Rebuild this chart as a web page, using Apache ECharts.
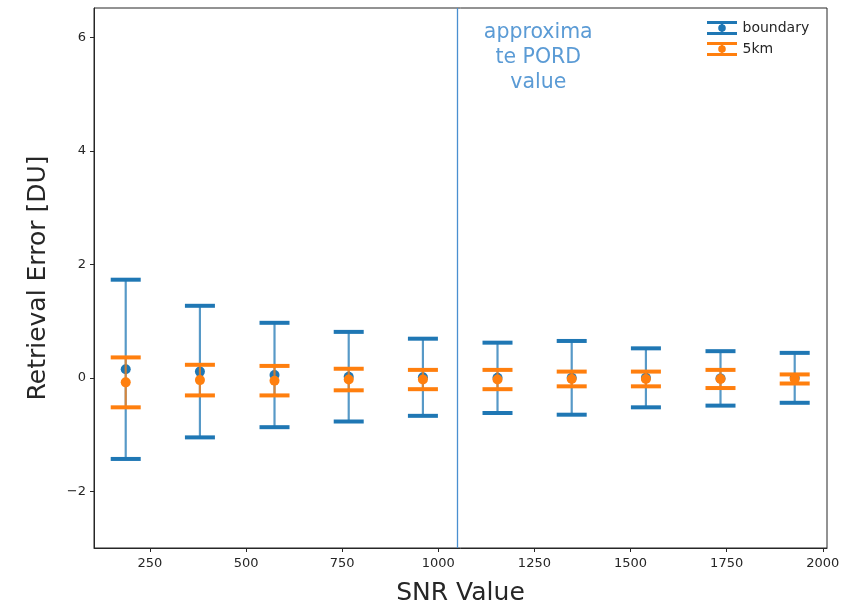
<!DOCTYPE html>
<html>
<head>
<meta charset="utf-8">
<script src="https://cdn.jsdelivr.net/npm/echarts@6/dist/echarts.min.js"></script>
<style>
  html, body { margin: 0; padding: 0; background: #fff; }
  #chart { width: 843px; height: 604px; }
</style>
</head>
<body>
<div id="chart"></div>
<script>
// SNR sample positions
const snr = [187, 380, 574, 767, 960, 1154, 1347, 1540, 1734, 1927];
// mean retrieval error and its spread, boundary case
const boundaryMean = [0.15, 0.11, 0.05, 0.02, 0.01, 0.00, 0.00, 0.00, -0.01, 0.00];
const boundaryErr  = [1.58, 1.16, 0.92, 0.79, 0.68, 0.62, 0.65, 0.52, 0.48, 0.44];
// mean retrieval error and its spread, 5 km case
const km5Mean = [-0.08, -0.04, -0.05, -0.03, -0.03, -0.03, -0.02, -0.02, -0.02, -0.02];
const km5Err  = [0.44, 0.27, 0.26, 0.19, 0.17, 0.17, 0.13, 0.13, 0.16, 0.08];
// tick labels
const xTicks = [250, 500, 750, 1000, 1250, 1500, 1750, 2000];
const yTicks = [-2, 0, 2, 4, 6];
// approximate PORD position
const pordSnr = 1050;

const BLUE = '#1f77b4';
const ORANGE = '#ff7f0e';
const PORD = '#4a8fd0';
const INK = '#262626';
const FONT = '"DejaVu Sans", sans-serif';

function errData(means, errs) {
  return snr.map((x, i) => [x, means[i] - errs[i], means[i] + errs[i]]);
}
function pts(means) {
  return snr.map((x, i) => [x, means[i]]);
}

// vertical error line with a cap at each end
function errRenderer(color) {
  return function (params, api) {
    const x = api.value(0);
    const lo = api.coord([x, api.value(1)]);
    const hi = api.coord([x, api.value(2)]);
    const half = 15;
    return {
      type: 'group',
      children: [
        { type: 'line', shape: { x1: hi[0], y1: hi[1], x2: lo[0], y2: lo[1] },
          style: { stroke: color, lineWidth: 2.2, opacity: 0.75 } },
        { type: 'line', shape: { x1: hi[0] - half, y1: hi[1], x2: hi[0] + half, y2: hi[1] },
          style: { stroke: color, lineWidth: 4 } },
        { type: 'line', shape: { x1: lo[0] - half, y1: lo[1], x2: lo[0] + half, y2: lo[1] },
          style: { stroke: color, lineWidth: 4 } }
      ]
    };
  };
}

const errIcon = 'path://M0,0H30V3H0Z M0,11H30V14H0Z M14,3H16V11H14Z M18.8,7A3.8,3.8 0 1,1 11.2,7A3.8,3.8 0 1,1 18.8,7Z';

const fmtY = v => (v < 0 ? '\u2212' + Math.abs(v) : String(v));
const fmtX = v => String(v);

const chart = echarts.init(document.getElementById('chart'), null, { renderer: 'canvas' });

chart.setOption({
  animation: false,
  backgroundColor: '#fff',
  textStyle: { fontFamily: FONT },
  grid: { left: 94, right: 16, top: 8, bottom: 56, show: true,
          containLabel: false, outerBoundsMode: 'none',
          borderColor: INK, borderWidth: 1, backgroundColor: 'transparent' },
  legend: {
    orient: 'vertical',
    left: 702, top: 16,
    itemWidth: 31, itemHeight: 14, itemGap: 7,
    textStyle: { fontFamily: FONT, fontSize: 14, color: INK },
    data: [
      { name: 'boundary', icon: errIcon, itemStyle: { color: BLUE } },
      { name: '5km', icon: errIcon, itemStyle: { color: ORANGE } }
    ]
  },
  xAxis: {
    type: 'value', min: 104.5, max: 2011,
    name: 'SNR Value', nameLocation: 'middle', nameGap: 33,
    nameTextStyle: { fontFamily: FONT, fontSize: 25, color: INK },
    splitLine: { show: false },
    axisLine: { onZero: false, lineStyle: { color: INK } },
    axisTick: { customValues: xTicks, length: 4, lineStyle: { color: INK } },
    axisLabel: { customValues: xTicks, fontFamily: FONT, fontSize: 13, color: INK, margin: 9,
                 formatter: fmtX }
  },
  yAxis: {
    type: 'value', min: -3.0, max: 6.52,
    name: 'Retrieval Error [DU]', nameLocation: 'middle', nameGap: 43,
    nameTextStyle: { fontFamily: FONT, fontSize: 25, color: INK },
    splitLine: { show: false },
    axisLine: { onZero: false, lineStyle: { color: INK } },
    axisTick: { customValues: yTicks, length: 4, lineStyle: { color: INK } },
    axisLabel: { customValues: yTicks, fontFamily: FONT, fontSize: 13, color: INK, margin: 8,
                 formatter: fmtY }
  },
  series: [
    {
      name: 'boundary', type: 'custom', renderItem: errRenderer(BLUE),
      data: errData(boundaryMean, boundaryErr), itemStyle: { color: BLUE }, z: 2
    },
    {
      name: 'boundary', type: 'scatter', data: pts(boundaryMean),
      symbol: 'circle', symbolSize: 10, itemStyle: { color: BLUE, opacity: 1 }, z: 3,
      markLine: {
        silent: true, symbol: 'none', label: { show: false },
        lineStyle: { color: PORD, width: 1.3, type: 'solid', opacity: 1 },
        emphasis: { disabled: true },
        data: [{ xAxis: pordSnr, lineStyle: { color: PORD } }]
      }
    },
    {
      name: '5km', type: 'custom', renderItem: errRenderer(ORANGE),
      data: errData(km5Mean, km5Err), itemStyle: { color: ORANGE }, z: 4
    },
    {
      name: '5km', type: 'scatter', data: pts(km5Mean),
      symbol: 'circle', symbolSize: 10, itemStyle: { color: ORANGE, opacity: 1 }, z: 5
    }
  ]
});

// annotation next to the PORD line
const anchor = chart.convertToPixel({ gridIndex: 0 }, [1260, 6.25]);
chart.setOption({
  graphic: [{
    type: 'text', x: anchor[0], y: 20,
    style: {
      text: 'approxima\nte PORD\nvalue',
      fontFamily: FONT, fontSize: 20.5, lineHeight: 25,
      fill: '#5b9bd5', align: 'center', verticalAlign: 'top'
    }
  }]
});
</script>
</body>
</html>
